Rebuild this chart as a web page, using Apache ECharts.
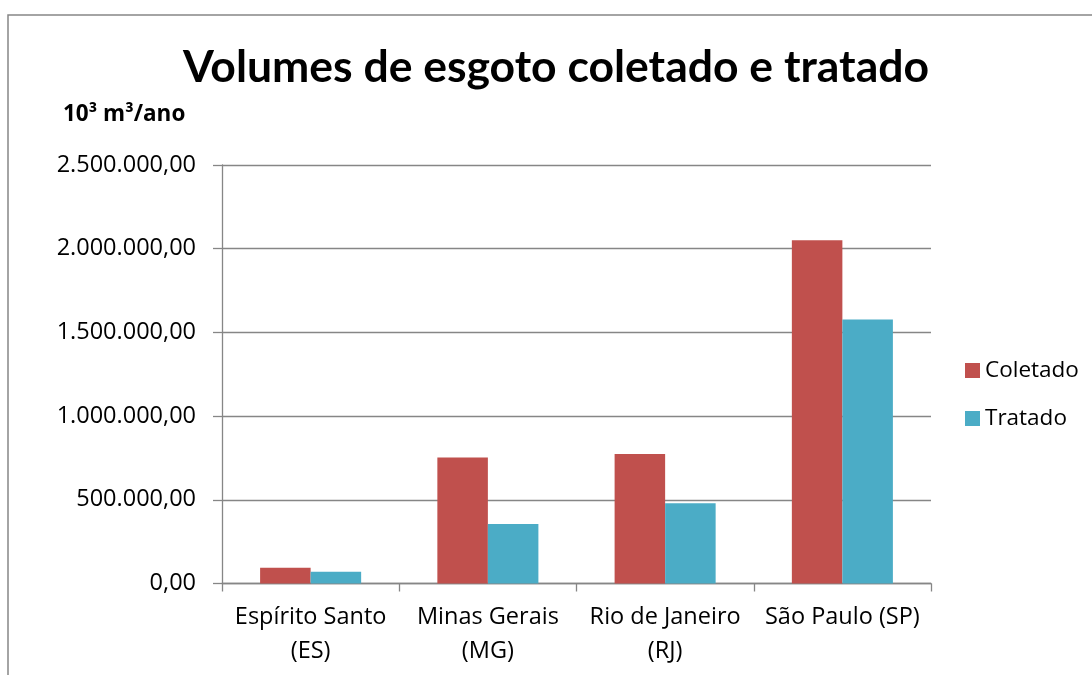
<!DOCTYPE html>
<html>
<head>
<meta charset="utf-8">
<script src="https://cdn.jsdelivr.net/npm/echarts@6/dist/echarts.min.js"></script>
<style>
  html, body { margin: 0; padding: 0; background: #fff; }
  #chart { width: 1092px; height: 675px; }
</style>
</head>
<body>
<div id="chart"></div>
<script>
const estados = ['Espírito Santo\n(ES)', 'Minas Gerais\n(MG)', 'Rio de Janeiro\n(RJ)', 'São Paulo (SP)'];
const coletado = [94000, 753000, 773000, 2051000];
const tratado = [70000, 355000, 479000, 1577000];

const cinza = '#868686';
const fonte = 'Open Sans';

// formato pt-BR: 2.500.000,00
function formatoBR(v) {
  const partes = v.toFixed(2).split('.');
  partes[0] = partes[0].replace(/\B(?=(\d{3})+(?!\d))/g, '.');
  return partes.join(',');
}

const chart = echarts.init(document.getElementById('chart'));

chart.setOption({
  animation: false,
  title: [
    {
      text: 'Volumes de esgoto coletado e tratado',
      left: 551,
      top: 40,
      textAlign: 'center',
      textStyle: { fontFamily: 'Lato', fontWeight: 'bold', fontSize: 44.5, color: '#000' }
    },
    {
      text: '10³ m³/ano',
      left: 58,
      top: 98,
      textStyle: { fontFamily: fonte, fontWeight: 'bold', fontSize: 22.5, color: '#000' }
    }
  ],
  graphic: [{
    type: 'rect',
    shape: { x: 8, y: 15, width: 1200, height: 800 },
    style: { fill: 'none', stroke: cinza, lineWidth: 1.5 },
    silent: true
  }],
  legend: {
    orient: 'vertical',
    left: 960,
    top: 354,
    itemWidth: 15,
    itemHeight: 15,
    itemGap: 25,
    icon: 'rect',
    textStyle: { fontFamily: fonte, fontSize: 22.5, color: '#000' },
    data: ['Coletado', 'Tratado']
  },
  grid: { left: 222, right: 161, top: 165, bottom: 91.5 },
  xAxis: {
    type: 'category',
    data: estados,
    axisLine: { lineStyle: { color: cinza, width: 1.3 } },
    axisTick: { show: true, length: 8, inside: false, lineStyle: { color: cinza, width: 1.3 } },
    axisLabel: { fontFamily: fonte, fontSize: 23.5, color: '#000', lineHeight: 34, margin: 17, interval: 0 }
  },
  yAxis: {
    type: 'value',
    min: 0,
    max: 2500000,
    interval: 500000,
    axisLine: { show: true, lineStyle: { color: cinza, width: 1.3 } },
    axisTick: { show: true, length: 9, lineStyle: { color: cinza, width: 1.3 } },
    axisLabel: { fontFamily: fonte, fontSize: 23.5, color: '#000', margin: 26, formatter: formatoBR },
    splitLine: { lineStyle: { color: cinza, width: 1.3 } }
  },
  series: [
    {
      name: 'Coletado',
      type: 'bar',
      data: coletado,
      barGap: '0%',
      barCategoryGap: '43%',
      itemStyle: { color: '#C0504D' }
    },
    {
      name: 'Tratado',
      type: 'bar',
      data: tratado,
      barGap: '0%',
      barCategoryGap: '43%',
      itemStyle: { color: '#4BACC6' }
    }
  ]
});
</script>
</body>
</html>
